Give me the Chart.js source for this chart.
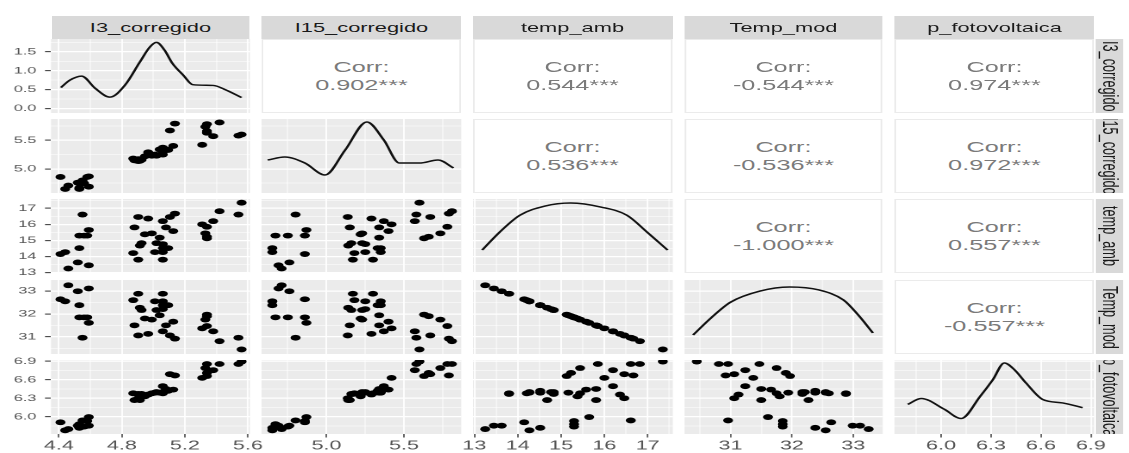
<!DOCTYPE html>
<html><head><meta charset="utf-8">
<script src="https://cdn.jsdelivr.net/npm/chart.js@4.4.1/dist/chart.umd.min.js"></script>
<style>
html,body{margin:0;padding:0;background:#fff;overflow:hidden;width:1129px;height:453px;}
#wrap{position:absolute;left:0;top:0;width:656.4px;height:453px;transform:scaleX(1.72);transform-origin:0 0;font-family:"Liberation Sans",Arial,sans-serif;}
.cell{position:absolute;}
.strip{position:absolute;background:#d9d9d9;color:#1a1a1a;font-size:12.7px;display:flex;align-items:center;justify-content:center;white-space:nowrap;overflow:hidden;}
.rstrip{writing-mode:vertical-rl;}
.corr{position:absolute;background:#fff;border:1px solid #ebebeb;box-sizing:border-box;color:#7a7a7a;font-size:14.7px;display:flex;flex-direction:column;align-items:center;justify-content:center;line-height:18.5px;}
</style></head><body><div id="wrap"></div>
<script>
// ---------- data (one entry per observation) ----------
const I3      = [4.41,4.44,4.46,4.52,4.53,4.53,4.55,4.58,4.59,4.59,4.56,
                 4.904,4.967,5.06,5.105,5.137,4.88,5.08,5.126,4.946,4.99,5.04,4.925,4.914,5.02,5.06,5.094,5.06,4.872,5.01,5.06,4.904,5.06,
                 5.56,5.42,5.54,5.38,5.31,5.34,5.33,5.34,5.34];
const I15     = [4.86,4.65,4.71,4.76,4.65,4.67,4.80,4.86,4.69,4.87,4.75,
                 5.137,5.29,5.37,5.67,5.79,5.15,5.34,5.40,5.22,5.23,5.34,5.16,5.14,5.23,5.25,5.33,5.35,5.18,5.25,5.35,5.17,5.30,
                 5.60,5.81,5.58,5.57,5.42,5.78,5.735,5.66,5.63];
const tempAmb = [14.15,14.27,13.25,13.63,14.52,15.3,16.61,15.3,13.45,15.65,15.3,
                 16.46,16.36,16.2,16.46,16.67,15.81,15.81,15.58,15.38,15.44,15.17,14.83,14.68,14.83,14.77,14.52,14.52,14.21,14.27,14.27,13.8,13.8,
                 17.35,16.82,16.61,16.2,16.0,15.85,15.44,15.23,15.13];
const tempMod = [32.64,32.55,33.25,32.99,32.38,31.85,30.96,31.85,33.11,31.61,31.85,
                 31.06,31.13,31.24,31.06,30.92,31.50,31.50,31.66,31.80,31.75,31.94,32.17,32.27,32.17,32.21,32.38,32.38,32.60,32.55,32.55,32.88,32.88,
                 30.45,30.81,30.96,31.24,31.37,31.47,31.75,31.90,31.97];
const pFoto   = [5.91,5.78,5.80,5.855,5.82,5.88,5.94,5.93,5.855,5.995,5.84,
                 6.30,6.36,6.495,6.69,6.67,6.27,6.45,6.44,6.33,6.38,6.39,6.37,6.27,6.40,6.40,6.42,6.39,6.38,6.39,6.40,6.37,6.38,
                 6.895,6.855,6.855,6.755,6.63,6.855,6.79,6.71,6.66];

// density curves
const densI3X   = [4.413,4.47,4.544,4.63,4.724,4.82,4.914,4.978,5.02,5.07,5.12,5.19,5.25,5.38,5.45,5.56];
const densI3Y   = [0.555,0.75,0.857,0.536,0.30,0.62,1.23,1.63,1.75,1.55,1.2,0.88,0.63,0.61,0.51,0.29];
const densI15X  = [4.62,4.73,4.86,4.99,5.12,5.26,5.37,5.47,5.6,5.72,5.82];
const densI15Y  = [0.446,0.486,0.405,0.243,0.58,0.96,0.716,0.405,0.405,0.446,0.338];
const densTempX = [13.18,13.58,14.05,14.63,15.22,15.93,16.52,16.99,17.46];
const densTempY = [0.31,0.55,0.78,0.905,0.946,0.89,0.78,0.55,0.31];
const densModX  = [30.39,30.68,31.0,31.48,31.96,32.44,32.84,33.08,33.32];
const densModY  = [0.257,0.486,0.70,0.85,0.905,0.865,0.73,0.527,0.284];
const densPX    = [5.80,5.88,6.02,6.12,6.235,6.31,6.38,6.44,6.51,6.61,6.73,6.85];
const densPY    = [0.40,0.48,0.333,0.209,0.51,0.73,0.96,0.87,0.69,0.467,0.42,0.356];

// correlations, upper triangle, row by row
const corrValues = ['0.902','0.544','-0.544','0.974','0.536','-0.536','0.972','-1.000','0.557','-0.557'];
const corrStars = '***';
const varNames = ['I3_corregido','I15_corregido','temp_amb','Temp_mod','p_fotovoltaica'];

// axis limits and breaks
const rangeI3 = [4.35,5.613],  ticksI3 = [4.4,4.8,5.2,5.6],      minorI3 = [4.6,5.0,5.4];
const rangeI15 = [4.58,5.87],  ticksI15 = [5.0,5.5],             minorI15 = [4.75,5.25,5.75];
const rangeTemp = [12.97,17.58], ticksTemp = [13,14,15,16,17],   minorTemp = [13.5,14.5,15.5,16.5,17.5];
const rangeMod = [30.25,33.48], ticksMod = [31,32,33],           minorMod = [30.5,31.5,32.5];
const rangeP = [5.72,6.92],    ticksP = [6.0,6.3,6.6,6.9],       minorP = [5.85,6.15,6.45,6.75];
const rangeDens = [-0.12,1.84], ticksDens = [0.0,0.5,1.0,1.5],   minorDens = [0.25,0.75,1.25,1.75];

// ---------- layout (unscaled coordinates; page is stretched horizontally) ----------
const colL = [29.65,152.33,275.0,397.67,520.35], colW = 115.7;
const rowT = [39,119,199,280,360], rowH = 74;
const M = 10, FONT = '"Liberation Sans", Arial, sans-serif';
const wrap = document.getElementById('wrap');

const series = [I3,I15,tempAmb,tempMod,pFoto];
const ranges = [rangeI3,rangeI15,rangeTemp,rangeMod,rangeP];
const majors = [ticksI3,ticksI15,ticksTemp,ticksMod,ticksP];
const minors = [minorI3,minorI15,minorTemp,minorMod,minorP];
const decs = [1,1,0,0,1];
const dens = [[densI3X,densI3Y],[densI15X,densI15Y],[densTempX,densTempY],[densModX,densModY],[densPX,densPY]];

const bgPlugin = {id:'panelBg', beforeDraw(chart){
  const a = chart.chartArea, ctx = chart.ctx;
  ctx.save(); ctx.fillStyle = '#ebebeb';
  ctx.fillRect(a.left, a.top, a.right - a.left, a.bottom - a.top); ctx.restore();
}};

function isIn(list, v){ return list.some(m => Math.abs(m - v) < 1e-9); }

function axisCfg(horizontal, range, maj, mnr, dec, show, size, fontSize, pad){
  const all = maj.concat(mnr).filter(v => v >= range[0] && v <= range[1]);
  const wMaj = horizontal ? 0.9 : 1.2, wMin = horizontal ? 0.45 : 0.6;
  return {
    type:'linear', min:range[0], max:range[1],
    afterBuildTicks: s => { s.ticks = all.map(v => ({value:v})); },
    afterFit: s => {
      if (horizontal) s.height = size; else s.width = size;
      s.paddingLeft = 0; s.paddingRight = 0; s.paddingTop = 0; s.paddingBottom = 0;
    },
    ticks:{display:show, autoSkip:false, maxRotation:0, minRotation:0, padding:pad,
      color:'#555555', font:{family:FONT, size:fontSize},
      callback: v => isIn(maj, v) ? Number(v).toFixed(dec) : ''},
    grid:{color:'#ffffff', drawTicks:show, tickLength:3.5,
      lineWidth: c => (c.tick && isIn(maj, c.tick.value)) ? wMaj : wMin,
      tickColor: c => (c.tick && isIn(maj, c.tick.value)) ? '#444444' : 'rgba(0,0,0,0)',
      tickWidth: horizontal ? 0.8 : 1.1},
    border:{display:false}
  };
}

function addChart(r, c){
  const axisW = c === 0 ? colL[0] : 0;
  const axisH = r === 4 ? 453 - (rowT[4] + rowH) : 0;
  const left = c === 0 ? 0 : colL[c] - M;
  const top = rowT[r] - M;
  const right = colL[c] + colW + M;
  const bottom = r === 4 ? 453 : rowT[r] + rowH + M;
  const d = document.createElement('div');
  d.className = 'cell';
  d.style.left = left + 'px'; d.style.top = top + 'px';
  d.style.width = (right - left) + 'px'; d.style.height = (bottom - top) + 'px';
  const cv = document.createElement('canvas'); d.appendChild(cv); wrap.appendChild(d);

  const xScale = axisCfg(true, ranges[c], majors[c], minors[c], decs[c], r === 4, axisH, 12.5, 1);
  let yScale, datasets, scales;
  const lineStyle = {showLine:true, pointRadius:0, borderColor:'#111', borderWidth:1.5, cubicInterpolationMode:'monotone', clip:0};
  if (r === c){
    const pts = dens[c][0].map((x, i) => ({x, y: dens[c][1][i]}));
    if (r === 0){
      yScale = axisCfg(false, rangeDens, ticksDens, minorDens, 1, true, axisW, 9.5, 5);
      datasets = [Object.assign({data:pts}, lineStyle)];
      scales = {x:xScale, y:yScale};
    } else {
      yScale = axisCfg(false, ranges[r], majors[r], minors[r], decs[r], c === 0, axisW, 9.5, 5);
      datasets = [Object.assign({data:pts, yAxisID:'yd'}, lineStyle)];
      scales = {x:xScale, y:yScale, yd:{type:'linear', display:false, min:0, max:1}};
    }
  } else {
    yScale = axisCfg(false, ranges[r], majors[r], minors[r], decs[r], c === 0, axisW, 9.5, 5);
    const pts = series[c].map((x, i) => ({x, y: series[r][i]}));
    datasets = [{data:pts, pointRadius:2.9, pointHoverRadius:2.9, backgroundColor:'#000', borderWidth:0, clip:0}];
    scales = {x:xScale, y:yScale};
  }
  new Chart(cv, {
    type:'scatter',
    data:{datasets},
    options:{
      responsive:true, maintainAspectRatio:false, animation:false, devicePixelRatio:2,
      events:[],
      layout:{padding:{left: c === 0 ? 0 : M, right:M, top:M, bottom: r === 4 ? 0 : M}},
      plugins:{legend:{display:false}, tooltip:{enabled:false}},
      scales
    },
    plugins:[bgPlugin]
  });
}

function addCorr(r, c, text){
  const d = document.createElement('div');
  d.className = 'corr';
  d.style.left = colL[c] + 'px'; d.style.top = rowT[r] + 'px';
  d.style.width = colW + 'px'; d.style.height = rowH + 'px';
  const a = document.createElement('div'); a.textContent = 'Corr:';
  const b = document.createElement('div'); b.textContent = text + corrStars;
  d.appendChild(a); d.appendChild(b); wrap.appendChild(d);
}

function addStrip(left, top, w, h, text, vertical){
  const d = document.createElement('div');
  d.className = 'strip' + (vertical ? ' rstrip' : '');
  d.style.left = left + 'px'; d.style.top = top + 'px';
  d.style.width = w + 'px'; d.style.height = h + 'px';
  d.textContent = text; wrap.appendChild(d);
}

let k = 0;
for (let r = 0; r < 5; r++){
  for (let c = 0; c < 5; c++){
    if (c <= r) addChart(r, c);
    else addCorr(r, c, corrValues[k++]);
  }
}
for (let c = 0; c < 5; c++) addStrip(colL[c], 16, colW, 23, varNames[c], false);
for (let r = 0; r < 5; r++) addStrip(637.2, rowT[r], 15.7, rowH, varNames[r], true);
</script></body></html>
